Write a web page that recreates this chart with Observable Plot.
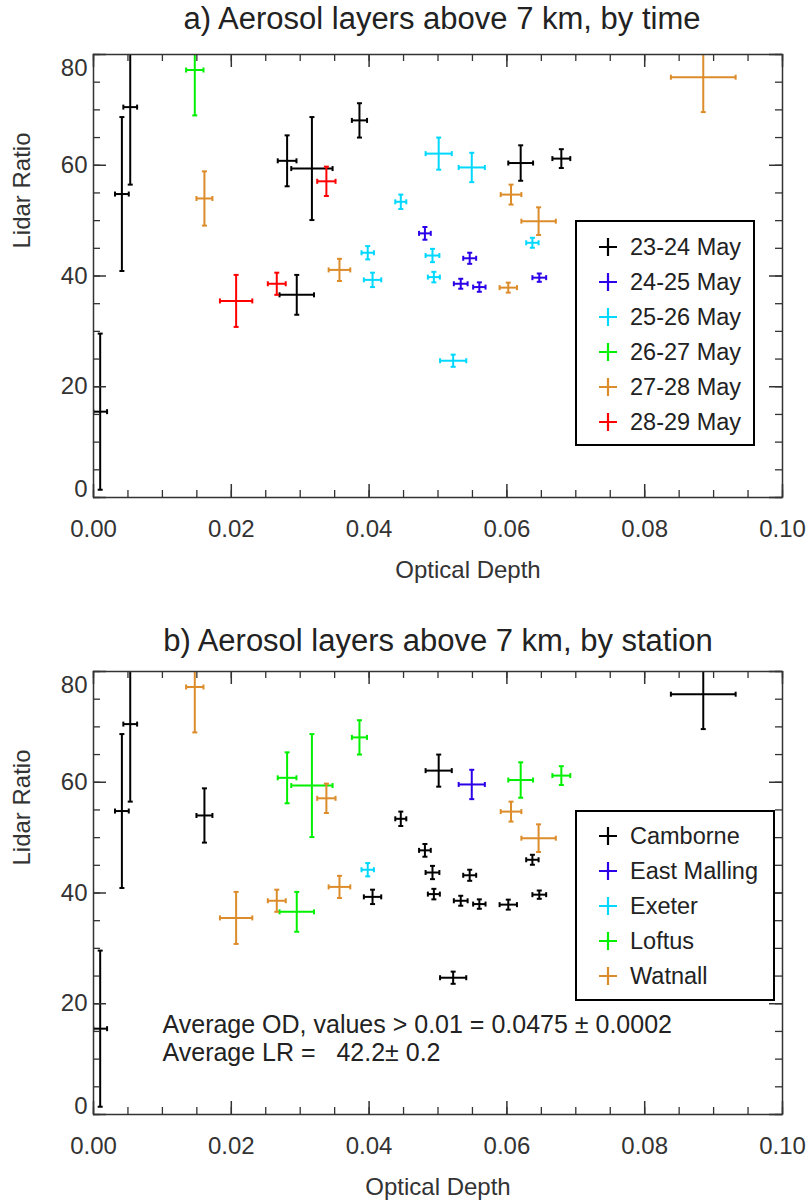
<!DOCTYPE html>
<html><head><meta charset="utf-8">
<script src="https://cdn.jsdelivr.net/npm/d3@7"></script>
<script src="https://cdn.jsdelivr.net/npm/@observablehq/plot@0.6"></script>
<style>
body{margin:0;background:#fff;}
#wrap{position:relative;width:808px;height:1201px;overflow:hidden;font-family:"Liberation Sans",Arial,sans-serif;}
.panel{position:absolute;left:0;}
.legend{position:absolute;border:2px solid #000;background:#fff;box-sizing:border-box;}
.entry{position:absolute;font-size:23.5px;color:#222;line-height:1;white-space:nowrap;}
svg text{white-space:pre;}
</style></head><body><div id="wrap"></div>
<script>
// ---- data ----
const opticalDepth = [0.00097,0.00412,0.00533,0.0281,0.0317,0.0295,0.0386,0.0620,0.0679,
  0.0481,0.0546,0.0533,0.0560,0.0647,
  0.0446,0.0501,0.0549,0.0637,0.0398,0.0405,0.0492,0.0494,0.0522,
  0.0147,
  0.0161,0.0606,0.0646,0.0885,0.0357,0.0602,
  0.0338,0.0207,0.0266];
const odError = [0.0010,0.0010,0.0010,0.00136,0.0030,0.0025,0.0011,0.0018,0.0013,
  0.00085,0.00094,0.0010,0.0009,0.0010,
  0.0008,0.0019,0.0019,0.0009,0.0009,0.00126,0.0010,0.00087,0.0019,
  0.00126,
  0.00116,0.0015,0.0025,0.0047,0.00157,0.00126,
  0.00133,0.00235,0.0013];
const lidarRatio = [15.5,54.8,70.5,60.8,59.4,36.6,68.1,60.4,61.2,
  47.7,43.2,38.6,38.0,39.7,
  53.4,62.1,59.6,46.0,44.2,39.3,43.7,39.8,24.7,
  77.2,
  54.0,54.7,49.9,75.9,41.1,37.9,
  57.1,35.5,38.6];
const lrError = [14.1,13.9,14.0,4.6,9.3,3.6,3.1,3.2,1.7,
  1.15,1.0,0.9,0.85,0.75,
  1.3,2.9,2.65,0.9,1.2,1.3,1.2,0.95,1.1,
  8.2,
  4.9,1.8,2.5,6.3,2.0,0.9,
  2.65,4.7,2.0];
const dayLabels = ["23-24 May","24-25 May","25-26 May","26-27 May","27-28 May","28-29 May"];
const dayColors = ["#000000","#2c00e8","#00d8ff","#00f000","#dc8c2a","#ff0000"];
const layerDay = [0,0,0,0,0,0,0,0,0, 1,1,1,1,1, 2,2,2,2,2,2,2,2,2, 3, 4,4,4,4,4,4, 5,5,5];
const stationLabels = ["Camborne","East Malling","Exeter","Loftus","Watnall"];
const stationColors = ["#000000","#2c00e8","#00d8ff","#00f000","#dc8c2a"];
const layerStation = [0,0,0,3,3,3,3,3,3, 0,0,0,0,0, 0,0,1,0,2,0,0,0,0, 4, 0,4,4,0,4,0, 4,4,4];
const xTickLabels = [0, 0.02, 0.04, 0.06, 0.08, 0.10];
const yTickLabels = [0, 20, 40, 60, 80];
const annotationLines = ["Average OD, values > 0.01 = 0.0475 \u00b1 0.0002", "Average LR =   42.2\u00b1 0.2"];

const W = 808, ML = 93, MR = 26, MT = 54;
const innerW = W - ML - MR;
const innerH = 443;
const xMinor = d3.range(0, 21).map(i => i * 0.005);
const yMinor = d3.range(0, 17).map(i => i * 5);

const capH = {draw(ctx, size){ const r = Math.sqrt(size / Math.PI); ctx.moveTo(-r, 0); ctx.lineTo(r, 0); }};
const capV = {draw(ctx, size){ const r = Math.sqrt(size / Math.PI); ctx.moveTo(0, -r); ctx.lineTo(0, r); }};

function panel({title, titleDy, titleDx, groups, labels, colors, height, xLabelDx, annotation}) {
  const rows = opticalDepth.map((x, i) => ({x, ex: odError[i], y: lidarRatio[i], ey: lrError[i], g: labels[groups[i]]}));
  const axisC = "#333";
  const marks = [
    Plot.link(rows, {x1: d => d.x - d.ex, x2: d => d.x + d.ex, y1: "y", y2: "y", stroke: "g", strokeWidth: 2, clip: true}),
    Plot.link(rows, {x1: "x", x2: "x", y1: d => d.y - d.ey, y2: d => d.y + d.ey, stroke: "g", strokeWidth: 2, clip: true}),
    Plot.dot(rows, {x: d => d.x - d.ex, y: "y", symbol: capV, r: 2.5, fill: "none", stroke: "g", strokeWidth: 2, clip: true}),
    Plot.dot(rows, {x: d => d.x + d.ex, y: "y", symbol: capV, r: 2.5, fill: "none", stroke: "g", strokeWidth: 2, clip: true}),
    Plot.dot(rows, {x: "x", y: d => d.y - d.ey, symbol: capH, r: 2.5, fill: "none", stroke: "g", strokeWidth: 2, clip: true}),
    Plot.dot(rows, {x: "x", y: d => d.y + d.ey, symbol: capH, r: 2.5, fill: "none", stroke: "g", strokeWidth: 2, clip: true}),
    // inward ticks
    Plot.ruleX(xMinor, {x: d => d, insetTop: innerH - 7, stroke: axisC, strokeWidth: 1.3}),
    Plot.ruleX(xMinor, {x: d => d, insetBottom: innerH - 7, stroke: axisC, strokeWidth: 1.3}),
    Plot.ruleX(xTickLabels, {x: d => d, insetTop: innerH - 13, stroke: axisC, strokeWidth: 1.5}),
    Plot.ruleX(xTickLabels, {x: d => d, insetBottom: innerH - 13, stroke: axisC, strokeWidth: 1.5}),
    Plot.ruleY(yMinor, {y: d => d, insetRight: innerW - 7, stroke: axisC, strokeWidth: 1.3}),
    Plot.ruleY(yMinor, {y: d => d, insetLeft: innerW - 7, stroke: axisC, strokeWidth: 1.3}),
    Plot.ruleY(yTickLabels, {y: d => d, insetRight: innerW - 13, stroke: axisC, strokeWidth: 1.5}),
    Plot.ruleY(yTickLabels, {y: d => d, insetLeft: innerW - 13, stroke: axisC, strokeWidth: 1.5}),
    Plot.frame({stroke: axisC, strokeWidth: 1.5}),
    // tick labels
    Plot.text(xTickLabels, {x: d => d, frameAnchor: "bottom", dy: 32, text: d => d.toFixed(2), fontSize: 24, fill: "#333", lineAnchor: "middle"}),
    Plot.text(yTickLabels.filter(t => t > 0 && t < 80), {y: d => d, frameAnchor: "left", dx: -6, text: d => String(d), fontSize: 24, fill: "#333", textAnchor: "end", lineAnchor: "middle"}),
    Plot.text(yTickLabels.filter(t => t === 80), {y: d => d, frameAnchor: "left", dx: -6, dy: 14, text: d => String(d), fontSize: 24, fill: "#333", textAnchor: "end", lineAnchor: "middle"}),
    Plot.text(yTickLabels.filter(t => t === 0), {y: d => d, frameAnchor: "left", dx: -6, dy: -8, text: d => String(d), fontSize: 24, fill: "#333", textAnchor: "end", lineAnchor: "middle"}),
    // axis labels and title
    Plot.text(["Optical Depth"], {frameAnchor: "bottom", dy: 73, dx: xLabelDx, fontSize: 24, fill: "#333", lineAnchor: "middle"}),
    Plot.text(["Lidar Ratio"], {frameAnchor: "top-left", dx: -71, dy: 136, rotate: -90, fontSize: 24, fill: "#333", lineAnchor: "middle", textAnchor: "middle"}),
    Plot.text([title], {frameAnchor: "top", dy: titleDy, dx: titleDx, fontSize: 31, fill: "#222", lineAnchor: "middle"})
  ];
  if (annotation) {
    marks.push(Plot.text([annotation.join("\n")], {frameAnchor: "bottom-left", dx: 69, dy: -54, fontSize: 25, fill: "#222", textAnchor: "start", lineAnchor: "bottom", lineHeight: 1.12}));
  }
  return Plot.plot({
    width: W, height,
    marginTop: MT, marginLeft: ML, marginRight: MR, marginBottom: height - MT - innerH,
    style: {fontFamily: '"Liberation Sans", Arial, sans-serif', background: "#fff"},
    x: {domain: [0, 0.1], axis: null},
    y: {domain: [0, 80], axis: null},
    color: {type: "ordinal", domain: labels, range: colors},
    marks
  });
}

function legend(labels, colors, left, top, w, h, firstRow) {
  const box = document.createElement("div");
  box.className = "legend";
  Object.assign(box.style, {left: left + "px", top: top + "px", width: w + "px", height: h + "px"});
  labels.forEach((lab, i) => {
    const e = document.createElement("div");
    e.className = "entry";
    const cy = firstRow + i * 35 - top - 2;
    e.style.left = "0px";
    e.style.top = (cy - 12) + "px";
    e.innerHTML = `<svg width="52" height="24" style="position:absolute;left:0;top:0"><path d="M${608 - left - 2 - 9},12H${608 - left - 2 + 9}M${608 - left - 2},3V21" stroke="${colors[i]}" stroke-width="2.2" fill="none"/></svg><span style="position:absolute;left:${630 - left - 2}px;top:1px">${lab}</span>`;
    box.appendChild(e);
  });
  return box;
}

const wrap = document.getElementById("wrap");
const a = panel({title: "a) Aerosol layers above 7 km, by time", titleDy: -35, titleDx: 4, groups: layerDay, labels: dayLabels, colors: dayColors, height: 617, xLabelDx: 30});
a.classList.add("panel"); a.style.top = "0px";
wrap.appendChild(a);
const b = panel({title: "b) Aerosol layers above 7 km, by station", titleDy: -30, titleDx: 0, groups: layerStation, labels: stationLabels, colors: stationColors, height: 584, xLabelDx: 0, annotation: annotationLines});
b.classList.add("panel"); b.style.top = "617px";
wrap.appendChild(b);
wrap.appendChild(legend(dayLabels, dayColors, 575, 220, 180, 226, 247));
wrap.appendChild(legend(stationLabels, stationColors, 575, 810, 200, 191, 836));
</script></body></html>
